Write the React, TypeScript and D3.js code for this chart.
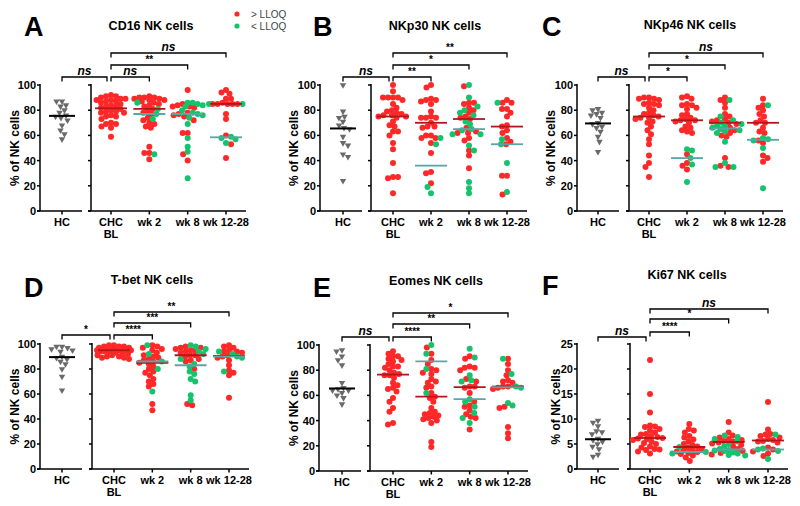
import React from "react";
import * as d3 from "d3";

// ---------- DATA ----------
const groups = ["CHC", "wk 2", "wk 8", "wk 12-28"];
const hcLabel = "HC";
const legendLabels = ["> LLOQ", "< LLOQ"];

const cd16HC = [87, 87, 84, 83, 80, 78, 76, 75, 74, 72, 68, 64, 61, 57];
const cd16CHC = [92, 91, 91, 90, 89, 89, 88, 88, 87, 87, 86, 85, 84, 83, 83, 82, 81, 80, 79, 79, 78, 78, 76, 75, 75, 73, 70, 69, 69, 67, 66, 59];
const cd16W2Hi = [91, 90, 90, 90, 89, 89, 88, 88, 87, 86, 85, 84, 83, 81, 80, 78, 77, 74, 72, 70, 69, 67, 66, 51, 46, 46, 41];
const cd16W2Lo = [86, 81, 77, 73, 45];
const cd16W8Hi = [96, 85, 84, 83, 83, 82, 78, 77, 76, 75, 72, 62, 62, 45, 40];
const cd16W8Lo = [86, 86, 85, 84, 83, 80, 78, 77, 76, 74, 69, 58, 51, 47, 26];
const cd16W12Hi = [96, 94, 93, 89, 89, 86, 85, 85, 85, 85, 85, 77, 73, 60, 53, 42];
const cd16W12Lo = [85, 85, 59, 58, 57, 54];
const cd16Sig = ["ns", "ns", "**", "ns"];

const nkp30HC = [100, 79, 75, 74, 71, 68, 66, 65, 59, 54, 52, 45, 43, 24];
const nkp30CHC = [100, 95, 90, 90, 90, 90, 88, 85, 82, 80, 79, 78, 77, 76, 76, 75, 75, 74, 71, 68, 67, 63, 63, 60, 54, 49, 38, 27, 27, 26, 14];
const nkp30W2Hi = [100, 98, 89, 88, 88, 87, 85, 79, 75, 74, 74, 74, 70, 67, 67, 66, 60, 60, 58, 58, 54, 46, 31, 30, 22];
const nkp30W2Lo = [58, 53, 19, 14];
const nkp30W8Hi = [99, 86, 86, 85, 82, 80, 78, 75, 74, 73, 66, 63, 62, 62, 58, 56, 48, 44, 34];
const nkp30W8Lo = [100, 90, 83, 80, 78, 76, 71, 69, 65, 64, 61, 61, 52, 48, 23, 18, 14];
const nkp30W12Hi = [88, 86, 86, 81, 81, 78, 75, 68, 67, 64, 62, 58, 55, 53, 28, 28, 13];
const nkp30W12Lo = [86, 57, 53, 38, 15];
const nkp30Sig = ["ns", "**", "*", "**"];

const nkp46HC = [81, 80, 78, 77, 76, 74, 70, 69, 67, 66, 63, 59, 55, 47];
const nkp46CHC = [90, 90, 89, 89, 88, 86, 85, 85, 84, 82, 80, 78, 77, 76, 75, 74, 74, 73, 71, 70, 67, 64, 61, 57, 53, 44, 38, 35, 27];
const nkp46W2Hi = [91, 90, 89, 85, 84, 84, 82, 81, 77, 76, 74, 73, 72, 72, 71, 70, 67, 66, 64, 63, 62, 45, 38, 36, 33];
const nkp46W2Lo = [49, 48, 42, 37, 23];
const nkp46W8Hi = [90, 88, 86, 82, 77, 75, 73, 72, 71, 70, 69, 66, 64, 62, 60, 59, 42, 36, 35];
const nkp46W8Lo = [88, 75, 72, 70, 69, 68, 67, 66, 65, 64, 63, 62, 55, 38, 35, 35];
const nkp46W12Hi = [89, 84, 82, 80, 77, 75, 72, 70, 70, 66, 63, 62, 56, 54, 44, 42, 39];
const nkp46W12Lo = [84, 58, 57, 56, 50, 18];
const nkp46Sig = ["ns", "*", "*", "ns"];

const tbetHC = [98, 98, 97, 96, 95, 94, 90, 89, 88, 86, 84, 80, 74, 63];
const tbetCHC = [99, 99, 98, 98, 98, 97, 97, 97, 96, 96, 96, 96, 95, 95, 95, 95, 95, 94, 94, 94, 93, 93, 92, 91, 91, 90, 90, 89, 89, 88];
const tbetW2Hi = [99, 98, 97, 96, 95, 93, 91, 90, 89, 88, 87, 86, 85, 84, 82, 80, 78, 77, 75, 72, 70, 68, 66, 52, 47];
const tbetW2Lo = [99, 92, 86, 80, 62];
const tbetW8Hi = [98, 97, 97, 96, 95, 95, 94, 93, 91, 91, 90, 88, 87, 86, 80, 52, 51];
const tbetW8Lo = [99, 98, 96, 94, 92, 88, 84, 82, 78, 76, 72, 70, 59, 55];
const tbetW12Hi = [99, 98, 97, 95, 94, 94, 93, 91, 90, 89, 87, 83, 79, 77, 75, 57];
const tbetW12Lo = [94, 92, 90, 89, 78];
const tbetSig = ["*", "****", "***", "**"];

const eomesHC = [96, 95, 91, 88, 84, 70, 66, 65, 64, 64, 62, 60, 58, 53];
const eomesCHC = [95, 93, 91, 91, 89, 88, 87, 85, 83, 83, 82, 80, 78, 77, 76, 76, 74, 70, 68, 66, 65, 63, 58, 55, 50, 47, 38, 37];
const eomesW2Hi = [98, 93, 88, 85, 81, 80, 78, 77, 73, 71, 70, 67, 66, 62, 59, 58, 55, 50, 47, 46, 45, 44, 43, 42, 41, 40, 38, 23, 19];
const eomesW2Lo = [100, 93, 81, 62];
const eomesW8Hi = [91, 89, 83, 82, 82, 80, 73, 71, 67, 67, 66, 62, 55, 52, 51, 48, 45, 43, 42, 33];
const eomesW8Lo = [97, 90, 76, 72, 71, 57, 55, 51, 46, 42, 38];
const eomesW12Hi = [89, 85, 80, 76, 72, 71, 70, 67, 67, 66, 65, 51, 50, 35, 30, 26];
const eomesW12Lo = [89, 77, 67, 66, 54, 52];
const eomesSig = ["ns", "****", "**", "*"];

const ki67HC = [9.7, 9.3, 8.6, 7.6, 7.4, 7.0, 6.1, 5.8, 5.5, 5.0, 4.5, 4.0, 2.9, 2.5];
const ki67CHC = [21.8, 15, 11.3, 8.7, 8.5, 8.4, 8.0, 7.7, 7.3, 7.0, 6.9, 6.6, 6.4, 6.2, 6.1, 6.0, 5.8, 5.5, 5.2, 5.0, 4.5, 4.3, 4.0, 3.9, 3.8, 3.5, 3.1];
const ki67W2Hi = [9.0, 8.0, 7.7, 7.3, 6.6, 6.3, 5.9, 5.5, 5.0, 4.8, 4.5, 4.3, 4.0, 3.8, 3.7, 3.5, 3.4, 3.2, 3.0, 2.7, 2.3, 1.6];
const ki67W2Lo = [4.4, 3.4, 3.1];
const ki67W8Hi = [9.4, 7.3, 6.7, 6.3, 6.0, 5.8, 5.6, 5.5, 5.3, 5.1, 4.8, 4.5, 4.0, 3.6, 3.2, 2.9];
const ki67W8Lo = [6.7, 6.4, 6.0, 5.5, 5.0, 4.5, 4.0, 3.8, 3.7, 3.6, 3.3, 3.1, 2.8, 2.7];
const ki67W12Hi = [13.4, 7.9, 7.0, 6.9, 6.6, 6.3, 6.0, 5.8, 5.6, 5.5, 5.3, 4.3, 3.9, 3.5, 3.1, 2.6];
const ki67W12Lo = [6.9, 4.1, 3.9, 3.6, 2.0];
const ki67Sig = ["ns", "****", "*", "ns"];

// ---------- STYLE / LAYOUT ----------
const RED = "#ff2828";
const GREEN = "#14c46c";
const RED_MED = "#b3151a";
const TEAL_MED = "#5aa6a6";
const GRAY = "#6a6a6a";
const FONT = "'Liberation Sans', Arial, sans-serif";

type Panel = {
  letter: string; title: string;
  hc: number[]; chc: number[]; hi: number[][]; lo: number[][]; sig: string[];
  ax: number; ax2: number; yTop: number; yBot: number; hcX: number; c0: number; c3: number;
  yMax: number; step: number; letterX: number; letterY: number; titleX: number; titleY: number;
  ylabX: number; br: number[];
};

const panels: Panel[] = [
  { letter: "A", title: "CD16 NK cells", hc: cd16HC, chc: cd16CHC, hi: [cd16W2Hi, cd16W8Hi, cd16W12Hi], lo: [cd16W2Lo, cd16W8Lo, cd16W12Lo], sig: cd16Sig,
    ax: 40, ax2: 91, yTop: 85, yBot: 211, hcX: 62, c0: 111, c3: 226, yMax: 100, step: 20, letterX: 24, letterY: 36, titleX: 151, titleY: 30, ylabX: 15, br: [8, 8, 20, 32] },
  { letter: "B", title: "NKp30 NK cells", hc: nkp30HC, chc: nkp30CHC, hi: [nkp30W2Hi, nkp30W8Hi, nkp30W12Hi], lo: [nkp30W2Lo, nkp30W8Lo, nkp30W12Lo], sig: nkp30Sig,
    ax: 320, ax2: 371, yTop: 85, yBot: 211, hcX: 343, c0: 393, c3: 507, yMax: 100, step: 20, letterX: 313, letterY: 36, titleX: 435, titleY: 30, ylabX: 294, br: [8, 8, 20, 32] },
  { letter: "C", title: "NKp46 NK cells", hc: nkp46HC, chc: nkp46CHC, hi: [nkp46W2Hi, nkp46W8Hi, nkp46W12Hi], lo: [nkp46W2Lo, nkp46W8Lo, nkp46W12Lo], sig: nkp46Sig,
    ax: 577, ax2: 629, yTop: 85, yBot: 211, hcX: 598, c0: 649, c3: 763, yMax: 100, step: 20, letterX: 542, letterY: 36, titleX: 690, titleY: 29, ylabX: 551, br: [8, 8, 20, 32] },
  { letter: "D", title: "T-bet NK cells", hc: tbetHC, chc: tbetCHC, hi: [tbetW2Hi, tbetW8Hi, tbetW12Hi], lo: [tbetW2Lo, tbetW8Lo, tbetW12Lo], sig: tbetSig,
    ax: 40, ax2: 92, yTop: 344, yBot: 469, hcX: 62, c0: 114, c3: 229, yMax: 100, step: 20, letterX: 24, letterY: 297, titleX: 152, titleY: 284, ylabX: 15, br: [9, 9, 21, 32] },
  { letter: "E", title: "Eomes NK cells", hc: eomesHC, chc: eomesCHC, hi: [eomesW2Hi, eomesW8Hi, eomesW12Hi], lo: [eomesW2Lo, eomesW8Lo, eomesW12Lo], sig: eomesSig,
    ax: 319, ax2: 370, yTop: 345, yBot: 471, hcX: 342, c0: 393, c3: 508, yMax: 100, step: 20, letterX: 313, letterY: 297, titleX: 436, titleY: 285, ylabX: 294, br: [8, 8, 21, 32] },
  { letter: "F", title: "Ki67 NK cells", hc: ki67HC, chc: ki67CHC, hi: [ki67W2Hi, ki67W8Hi, ki67W12Hi], lo: [ki67W2Lo, ki67W8Lo, ki67W12Lo], sig: ki67Sig,
    ax: 577, ax2: 630, yTop: 344, yBot: 469, hcX: 598, c0: 650, c3: 768, yMax: 25, step: 5, letterX: 542, letterY: 295, titleX: 687, titleY: 279, ylabX: 556, br: [7, 12, 25, 35] },
];

// deterministic beeswarm offsets from pixel y values, capped width
function swarm(ys: number[], minDist: number, maxW: number): number[] {
  const order = ys.map((_, i) => i).sort((a, b) => ys[a] - ys[b]);
  const placed: { x: number; y: number }[] = [];
  const out: number[] = new Array(ys.length).fill(0);
  let flip = 1;
  for (const i of order) {
    const y = ys[i];
    let best = 0;
    let bestD = -1;
    let found = false;
    const nSteps = Math.floor(maxW / 0.5) * 2 + 1;
    for (let k = 0; k < nSteps; k++) {
      const cand = k === 0 ? 0 : (k % 2 ? flip : -flip) * Math.ceil(k / 2) * 0.5;
      let dmin = Infinity;
      for (const p of placed) {
        const d = Math.hypot(p.x - cand, p.y - y);
        if (d < dmin) dmin = d;
      }
      if (dmin >= minDist) {
        best = cand;
        found = true;
        break;
      }
      if (dmin > bestD + 0.3) {
        bestD = dmin;
        best = cand;
      }
    }
    if (!found && bestD < 0) best = 0;
    flip = -flip;
    placed.push({ x: best, y });
    out[i] = best;
  }
  return out;
}

const triangle = d3.symbol().type(d3.symbolTriangle).size(18)();

function PanelView({ p }: { p: Panel }) {
  const y = d3.scaleLinear().domain([0, p.yMax]).range([p.yBot, p.yTop]);
  const x = d3.scalePoint<string>().domain(groups).range([p.c0, p.c3]);
  const ticks = d3.range(0, p.yMax + p.step / 2, p.step);
  const R = 3;
  const DIST = 5.0;
  const MAXW = 17;

  const hcYs = p.hc.map((v) => y(v));
  const hcOff = swarm(hcYs, 5.2, 12);
  const chcYs = p.chc.map((v) => y(v));
  const chcOff = swarm(chcYs, DIST, MAXW);

  const follow = groups.slice(1).map((g, gi) => {
    const hi = p.hi[gi];
    const lo = p.lo[gi];
    const all = [...hi.map((v) => ({ v, c: "hi" })), ...lo.map((v) => ({ v, c: "lo" }))];
    const offs = swarm(all.map((d) => y(d.v)), DIST, MAXW);
    return { g, hi, lo, pts: all.map((d, i) => ({ ...d, dx: offs[i] })) };
  });

  const med = (a: number[]) => d3.median(a) as number;
  const lastX = x(groups[3])!;
  const chcX = x(groups[0])!;

  const bracket = (x1: number, x2: number, by: number, label: string, key: string) => (
    <g key={key}>
      <path d={`M${x1},${by + 4.5}V${by}H${x2}V${by + 4.5}`} fill="none" stroke="#000" strokeWidth={1.3} />
      <text x={(x1 + x2) / 2} y={by - 2.5} textAnchor="middle" fontSize={label === "ns" ? 12 : 10}
        fontWeight="bold" fontStyle={label === "ns" ? "italic" : "normal"} fontFamily={FONT}>{label}</text>
    </g>
  );

  return (
    <g>
      <text x={p.letterX} y={p.letterY} fontSize={27} fontWeight="bold" fontFamily={FONT}>{p.letter}</text>
      <text x={p.titleX} y={p.titleY} fontSize={12.5} fontWeight="bold" textAnchor="middle" fontFamily={FONT}>{p.title}</text>
      <text transform={`translate(${p.ylabX},${(p.yTop + p.yBot) / 2}) rotate(-90)`} textAnchor="middle"
        fontSize={12} fontWeight="bold" fontFamily={FONT} dy="0.35em">% of NK cells</text>

      {/* axes */}
      <g stroke="#000" strokeWidth={1.5} fill="none">
        <line x1={p.ax} x2={p.ax} y1={p.yTop - 1} y2={p.yBot} />
        <line x1={p.ax2} x2={p.ax2} y1={p.yTop - 1} y2={p.yBot} />
        <line x1={p.ax - 3} x2={p.ax + 42} y1={p.yBot} y2={p.yBot} />
        <line x1={p.ax2 - 3} x2={lastX + 20} y1={p.yBot} y2={p.yBot} />
        {ticks.map((t) => (
          <g key={t}>
            <line x1={p.ax - 3} x2={p.ax} y1={y(t)} y2={y(t)} />
            <line x1={p.ax2 - 3} x2={p.ax2} y1={y(t)} y2={y(t)} />
          </g>
        ))}
        <line x1={p.hcX} x2={p.hcX} y1={p.yBot} y2={p.yBot + 3.5} />
        {groups.map((g) => (
          <line key={g} x1={x(g)} x2={x(g)} y1={p.yBot} y2={p.yBot + 3.5} />
        ))}
      </g>
      {ticks.map((t) => (
        <text key={t} x={p.ax - 4} y={y(t)} dy="0.36em" textAnchor="end" fontSize={11} fontWeight="bold" fontFamily={FONT}>{t}</text>
      ))}
      <text x={p.hcX} y={p.yBot + 15} textAnchor="middle" fontSize={11} fontWeight="bold" fontFamily={FONT}>{hcLabel}</text>
      {groups.map((g) => (
        <text key={g} x={x(g)} y={p.yBot + 15} textAnchor="middle" fontSize={11} fontWeight="bold" fontFamily={FONT}>{g}</text>
      ))}
      <text x={chcX} y={p.yBot + 27} textAnchor="middle" fontSize={11} fontWeight="bold" fontFamily={FONT}>BL</text>

      {/* HC triangles */}
      {p.hc.map((v, i) => (
        <path key={i} d={triangle} transform={`translate(${p.hcX + hcOff[i]},${hcYs[i]}) rotate(180)`} fill={GRAY} />
      ))}
      <line x1={p.hcX - 13} x2={p.hcX + 13} y1={y(med(p.hc))} y2={y(med(p.hc))} stroke="#000" strokeWidth={2} />

      {/* CHC */}
      {p.chc.map((v, i) => (
        <circle key={i} cx={chcX + chcOff[i]} cy={chcYs[i]} r={R} fill={RED} />
      ))}
      <line x1={chcX - 16} x2={chcX + 16} y1={y(med(p.chc))} y2={y(med(p.chc))} stroke={RED_MED} strokeWidth={1.8} />

      {/* follow-up */}
      {follow.map((f) => {
        const cx = x(f.g)!;
        return (
          <g key={f.g}>
            {f.pts.filter((d) => d.c === "hi").map((d, i) => (
              <circle key={"h" + i} cx={cx + d.dx} cy={y(d.v)} r={R} fill={RED} />
            ))}
            {f.pts.filter((d) => d.c === "lo").map((d, i) => (
              <circle key={"l" + i} cx={cx + d.dx} cy={y(d.v)} r={R} fill={GREEN} />
            ))}
            <line x1={cx - 16} x2={cx + 16} y1={y(med(f.hi))} y2={y(med(f.hi))} stroke={RED_MED} strokeWidth={1.8} />
            <line x1={cx - 16} x2={cx + 16} y1={y(med(f.lo))} y2={y(med(f.lo))} stroke={TEAL_MED} strokeWidth={1.8} />
          </g>
        );
      })}

      {/* significance brackets */}
      {bracket(p.hcX, chcX - 4, p.yTop - p.br[0], p.sig[0], "b0")}
      {groups.slice(1).map((g, gi) => bracket(chcX, x(g)!, p.yTop - p.br[gi + 1], p.sig[gi + 1], "b" + (gi + 1)))}
    </g>
  );
}

export default function App() {
  return (
    <svg width={800} height={506} style={{ position: "absolute", left: 0, top: 0, background: "#fff" }}>
      <rect width={800} height={506} fill="#fff" />
      {panels.map((p) => (
        <PanelView key={p.letter} p={p} />
      ))}
      <circle cx={237} cy={14} r={2.6} fill={RED} />
      <circle cx={237} cy={26} r={2.6} fill={GREEN} />
      <text x={251} y={14} dy="0.35em" fontSize={10} fill="#444" fontFamily={FONT}>{legendLabels[0]}</text>
      <text x={251} y={26} dy="0.35em" fontSize={10} fill="#444" fontFamily={FONT}>{legendLabels[1]}</text>
    </svg>
  );
}
